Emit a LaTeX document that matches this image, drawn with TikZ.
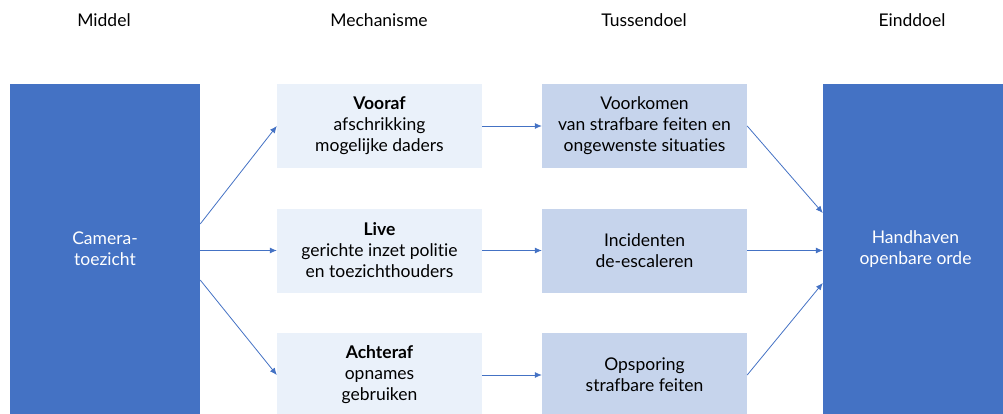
\documentclass[tikz,border=0pt]{standalone}
\usepackage{fontspec}
\setmainfont[Ligatures=NoCommon]{Lato}
\usetikzlibrary{arrows.meta}
\definecolor{dblue}{HTML}{4472C4}
\definecolor{lblue}{HTML}{EAF1FA}
\definecolor{mblue}{HTML}{C6D4EC}
\tikzset{
  bigbox/.style={fill=dblue, draw=none, text=white, align=center, font=\fontsize{17.5}{21}\selectfont, inner sep=0pt},
  mechbox/.style={fill=lblue, draw=none, text=black, align=center, minimum width=205pt, minimum height=84pt, font=\fontsize{17.5}{21}\selectfont, inner sep=0pt},
  goalbox/.style={fill=mblue, draw=none, text=black, align=center, minimum width=205pt, minimum height=84pt, font=\fontsize{17.5}{21}\selectfont, inner sep=0pt},
  header/.style={font=\fontsize{17.5}{20}\selectfont, text=black},
  conn/.style={draw=dblue, line width=0.8pt, -{Latex[length=7pt,width=6pt]}}
}
\begin{document}
\begin{tikzpicture}[x=1pt, y=-1pt]
\useasboundingbox (0,0) rectangle (1003,414);
\node[header] (h1) at (104,20) {Middel};
\node[header] (h2) at (379,20) {Mechanisme};
\node[header] (h3) at (644,20) {Tussendoel};
\node[header] (h4) at (912,20) {Einddoel};

\node[bigbox, minimum width=190pt, minimum height=330pt] (L) at (105,249) {Camera-\\toezicht};
\node[bigbox, minimum width=185pt, minimum height=330pt] (R) at (915.5,249) {Handhaven\\openbare orde};

\node[mechbox] (m1) at (379.5,126) {\textbf{Vooraf}\\afschrikking\\mogelijke daders};
\node[mechbox] (m2) at (379.5,250.5) {\textbf{Live}\\gerichte inzet politie\\en toezichthouders};
\node[mechbox] (m3) at (379.5,375) {\textbf{Achteraf}\\opnames\\gebruiken};

\node[goalbox] (g1) at (644.5,126) {Voorkomen\\van strafbare feiten en\\ongewenste situaties};
\node[goalbox] (g2) at (644.5,250.5) {Incidenten\\de-escaleren};
\node[goalbox] (g3) at (644.5,375) {Opsporing\\strafbare feiten};

\draw[conn] ([yshift=25pt]L.east) -- (m1.west);
\draw[conn] ([yshift=-1.5pt]L.east) -- (m2.west);
\draw[conn] ([yshift=-31pt]L.east) -- (m3.west);

\draw[conn] (m1.east) -- (g1.west);
\draw[conn] (m2.east) -- (g2.west);
\draw[conn] (m3.east) -- (g3.west);

\draw[conn] (g1.east) -- ([yshift=36pt]R.west);
\draw[conn] (g2.east) -- ([yshift=-1.5pt]R.west);
\draw[conn] (g3.east) -- ([yshift=-34pt]R.west);
\end{tikzpicture}
\end{document}
